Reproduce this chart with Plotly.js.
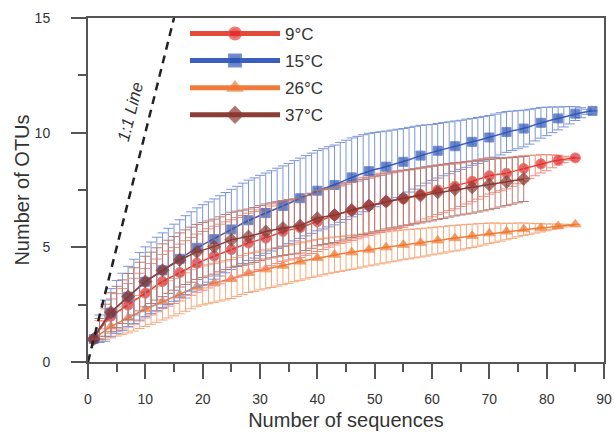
<!DOCTYPE html>
<html>
<head>
<meta charset="utf-8">
<script src="https://cdn.plot.ly/plotly-3.0.1.min.js"></script>
<style>html,body{margin:0;padding:0;background:#fff}#chart{width:614px;height:434px}</style>
</head>
<body>
<div id="chart"></div>
<script>
// Rarefaction curves: mean number of OTUs vs number of sequences, with error bars
var seriesNames = ["9\u00b0C", "15\u00b0C", "26\u00b0C", "37\u00b0C"];

// 9°C (x = 1..85)
var y9 = [1.00,1.40,1.72,2.00,2.16,2.32,2.48,2.65,2.83,3.00,3.17,3.34,3.51,3.64,3.77,3.90,4.04,4.17,4.31,4.41,
  4.52,4.62,4.71,4.81,4.90,5.00,5.09,5.19,5.26,5.33,5.40,5.50,5.59,5.69,5.75,5.80,5.86,5.95,6.03,6.12,
  6.21,6.31,6.40,6.47,6.53,6.60,6.67,6.75,6.82,6.88,6.94,7.00,7.04,7.08,7.12,7.18,7.24,7.30,7.37,7.43,
  7.50,7.55,7.61,7.66,7.73,7.81,7.88,7.96,8.04,8.12,8.16,8.19,8.23,8.30,8.37,8.44,8.51,8.57,8.64,8.69,
  8.75,8.80,8.83,8.87,8.90];
var e9 = [0.00,0.40,0.60,0.75,0.82,0.88,0.94,1.00,1.04,1.08,1.12,1.15,1.18,1.20,1.22,1.24,1.25,1.26,1.27,1.28,
  1.29,1.30,1.30,1.30,1.30,1.30,1.30,1.30,1.30,1.30,1.30,1.30,1.30,1.30,1.30,1.30,1.30,1.30,1.30,1.30,
  1.30,1.30,1.30,1.30,1.30,1.30,1.30,1.30,1.30,1.30,1.29,1.28,1.27,1.26,1.25,1.22,1.19,1.16,1.13,1.10,
  1.07,1.04,1.01,0.98,0.95,0.92,0.89,0.86,0.83,0.80,0.76,0.72,0.68,0.64,0.60,0.55,0.50,0.45,0.40,0.35,
  0.28,0.21,0.14,0.07,0.00];

// 15°C (x = 1..88)
var y15 = [1.00,1.45,1.80,2.15,2.40,2.62,2.85,3.08,3.30,3.50,3.67,3.84,4.00,4.17,4.33,4.50,4.66,4.82,4.98,5.11,
  5.23,5.36,5.50,5.64,5.78,5.91,6.05,6.18,6.28,6.39,6.49,6.59,6.70,6.80,6.91,7.03,7.14,7.25,7.36,7.47,
  7.55,7.64,7.72,7.83,7.94,8.05,8.14,8.23,8.32,8.39,8.45,8.52,8.59,8.66,8.73,8.82,8.91,9.00,9.07,9.14,
  9.21,9.28,9.34,9.41,9.47,9.54,9.60,9.66,9.73,9.79,9.87,9.95,10.03,10.08,10.13,10.18,10.26,10.35,10.43,10.49,
  10.56,10.62,10.69,10.76,10.83,10.87,10.91,10.95];
var e15 = [0.00,0.60,0.90,1.05,1.15,1.25,1.32,1.40,1.47,1.52,1.56,1.60,1.63,1.66,1.68,1.70,1.72,1.73,1.74,1.75,
  1.75,1.75,1.75,1.75,1.75,1.75,1.75,1.75,1.75,1.75,1.75,1.75,1.75,1.75,1.75,1.75,1.75,1.75,1.75,1.75,
  1.75,1.75,1.74,1.74,1.73,1.72,1.70,1.68,1.65,1.62,1.59,1.55,1.52,1.49,1.45,1.41,1.37,1.32,1.27,1.22,
  1.19,1.16,1.13,1.10,1.07,1.05,1.02,1.00,0.98,0.96,0.94,0.92,0.89,0.86,0.83,0.80,0.76,0.71,0.67,0.62,
  0.56,0.50,0.44,0.38,0.30,0.22,0.11,0.00];

// 26°C (x = 1..85)
var y26 = [1.00,1.20,1.38,1.55,1.68,1.80,1.92,2.05,2.18,2.30,2.41,2.52,2.63,2.73,2.83,2.93,3.05,3.17,3.28,3.34,
  3.39,3.45,3.51,3.56,3.62,3.71,3.79,3.88,3.93,3.99,4.04,4.09,4.15,4.20,4.26,4.32,4.38,4.43,4.49,4.54,
  4.59,4.63,4.68,4.71,4.75,4.78,4.82,4.86,4.90,4.93,4.97,5.00,5.04,5.07,5.11,5.14,5.17,5.20,5.23,5.27,
  5.30,5.33,5.37,5.40,5.43,5.47,5.50,5.54,5.57,5.61,5.64,5.66,5.69,5.72,5.76,5.79,5.81,5.83,5.85,5.87,
  5.90,5.92,5.95,5.97,6.00];
var e26 = [0.00,0.25,0.40,0.50,0.55,0.60,0.65,0.70,0.72,0.75,0.77,0.79,0.80,0.81,0.82,0.83,0.84,0.85,0.85,0.85,
  0.85,0.85,0.85,0.85,0.85,0.85,0.85,0.85,0.85,0.85,0.85,0.84,0.84,0.83,0.83,0.82,0.82,0.81,0.80,0.80,
  0.79,0.78,0.77,0.76,0.75,0.74,0.73,0.72,0.71,0.70,0.69,0.68,0.67,0.66,0.65,0.64,0.63,0.62,0.61,0.60,
  0.59,0.58,0.57,0.56,0.55,0.53,0.51,0.49,0.47,0.45,0.42,0.39,0.36,0.33,0.30,0.27,0.24,0.21,0.18,0.15,
  0.12,0.09,0.06,0.03,0.00];

// 37°C (x = 1..76)
var y37 = [1.00,1.45,1.82,2.17,2.40,2.63,2.86,3.08,3.29,3.51,3.67,3.84,4.00,4.15,4.30,4.45,4.57,4.68,4.80,4.88,
  4.95,5.03,5.13,5.23,5.33,5.38,5.42,5.47,5.54,5.62,5.69,5.74,5.79,5.84,5.88,5.91,5.95,6.06,6.16,6.27,
  6.32,6.36,6.41,6.48,6.56,6.63,6.69,6.76,6.82,6.88,6.94,7.00,7.05,7.09,7.14,7.18,7.22,7.26,7.31,7.35,
  7.40,7.44,7.49,7.53,7.56,7.59,7.62,7.66,7.70,7.74,7.78,7.82,7.86,7.90,7.94,7.98];
var e37 = [0.00,0.45,0.70,0.85,0.90,0.95,1.00,1.03,1.06,1.10,1.12,1.14,1.15,1.16,1.17,1.18,1.19,1.20,1.20,1.20,
  1.20,1.20,1.20,1.20,1.20,1.20,1.20,1.20,1.20,1.20,1.20,1.20,1.20,1.20,1.20,1.20,1.20,1.20,1.20,1.20,
  1.20,1.20,1.20,1.20,1.20,1.20,1.20,1.20,1.20,1.20,1.20,1.20,1.20,1.20,1.20,1.20,1.20,1.20,1.20,1.20,
  1.19,1.18,1.17,1.16,1.15,1.14,1.13,1.12,1.11,1.10,1.08,1.06,1.04,1.02,1.00,0.98];

// 1:1 reference line
var oneToOneX = [0, 15];
var oneToOneY = [0, 15];

var xTitle = "Number of sequences";
var yTitle = "Number of OTUs";

function seqX(arr) { return arr.map(function (_, i) { return i + 1; }); }
function markEvery3(arr, s) { return arr.map(function (_, i) { return (i % 3 === 0) ? s : 0; }); }

var styles = [
  {y: y9,  e: e9,  line: "#e5493a", mk: "#e4242b", bar: "#f08a7c", sym: "circle",       size: 10},
  {y: y15, e: e15, line: "#3c5fbf", mk: "#2852b0", bar: "#7b95d6", sym: "square",       size: 9},
  {y: y26, e: e26, line: "#f07c3c", mk: "#f07428", bar: "#f6a77a", sym: "triangle-up",  size: 10},
  {y: y37, e: e37, line: "#8c3d36", mk: "#8a3530", bar: "#b87a70", sym: "diamond",      size: 10}
];
var drawOrder = [2, 0, 1, 3];

var traces = [];
drawOrder.forEach(function (k) {
  var s = styles[k];
  traces.push({
    type: "scatter", mode: "lines+markers", name: seriesNames[k],
    legendgroup: "g" + k, legendrank: k + 1,
    x: seqX(s.y), y: s.y,
    line: {color: s.line, width: 1.5},
    marker: {symbol: s.sym, color: s.mk, size: markEvery3(s.y, s.size)},
    error_y: {type: "data", array: s.e, visible: true, color: s.bar, thickness: 1, width: 5}
  });
});
traces.push({
  type: "scatter", mode: "lines", x: oneToOneX, y: oneToOneY, showlegend: false,
  line: {color: "#222", width: 2.5, dash: "8px,6px"}, hoverinfo: "skip"
});

var axisCommon = {
  showgrid: false, zeroline: false, showline: true, linecolor: "#555", linewidth: 2,
  mirror: true, ticks: "outside", ticklen: 15, tickwidth: 2, tickcolor: "#555",
  tickfont: {family: "Liberation Sans, Arial, sans-serif", size: 14, color: "#333"},
  fixedrange: true
};

var layout = {
  width: 614, height: 434,
  margin: {l: 88, r: 10, t: 18, b: 71.5},
  paper_bgcolor: "#fff", plot_bgcolor: "#fff",
  font: {family: "Liberation Sans, Arial, sans-serif", color: "#333"},
  xaxis: Object.assign({}, axisCommon, {
    range: [0, 90], dtick: 10, tick0: 0, ticklabelstandoff: 8,
    minor: {dtick: 5, ticklen: 8, tickwidth: 2, tickcolor: "#555", ticks: "outside"},
    title: {text: xTitle, font: {size: 20, color: "#333"}, standoff: 7}
  }),
  yaxis: Object.assign({}, axisCommon, {
    range: [0, 15], dtick: 5, tick0: 0, ticklabelstandoff: 18,
    minor: {dtick: 2.5, ticklen: 8, tickwidth: 2, tickcolor: "#555", ticks: "outside"},
    title: {text: yTitle, font: {size: 20, color: "#333"}, standoff: 0}
  }),
  showlegend: true,
  legend: {
    x: 0.188, y: 1.006, xanchor: "left", yanchor: "top",
    bgcolor: "rgba(255,255,255,0)", borderwidth: 0,
    font: {size: 17, color: "#333"}, itemwidth: 90, itemsizing: "constant",
    traceorder: "grouped", tracegroupgap: 2
  },
  annotations: [{
    x: 7.33, y: 10.9, xref: "x", yref: "y", text: "<i>1:1 Line</i>", showarrow: false,
    textangle: -76, font: {size: 17, color: "#333"}
  }]
};

Plotly.newPlot("chart", traces, layout, {displayModeBar: false, staticPlot: true});
</script>
</body>
</html>
